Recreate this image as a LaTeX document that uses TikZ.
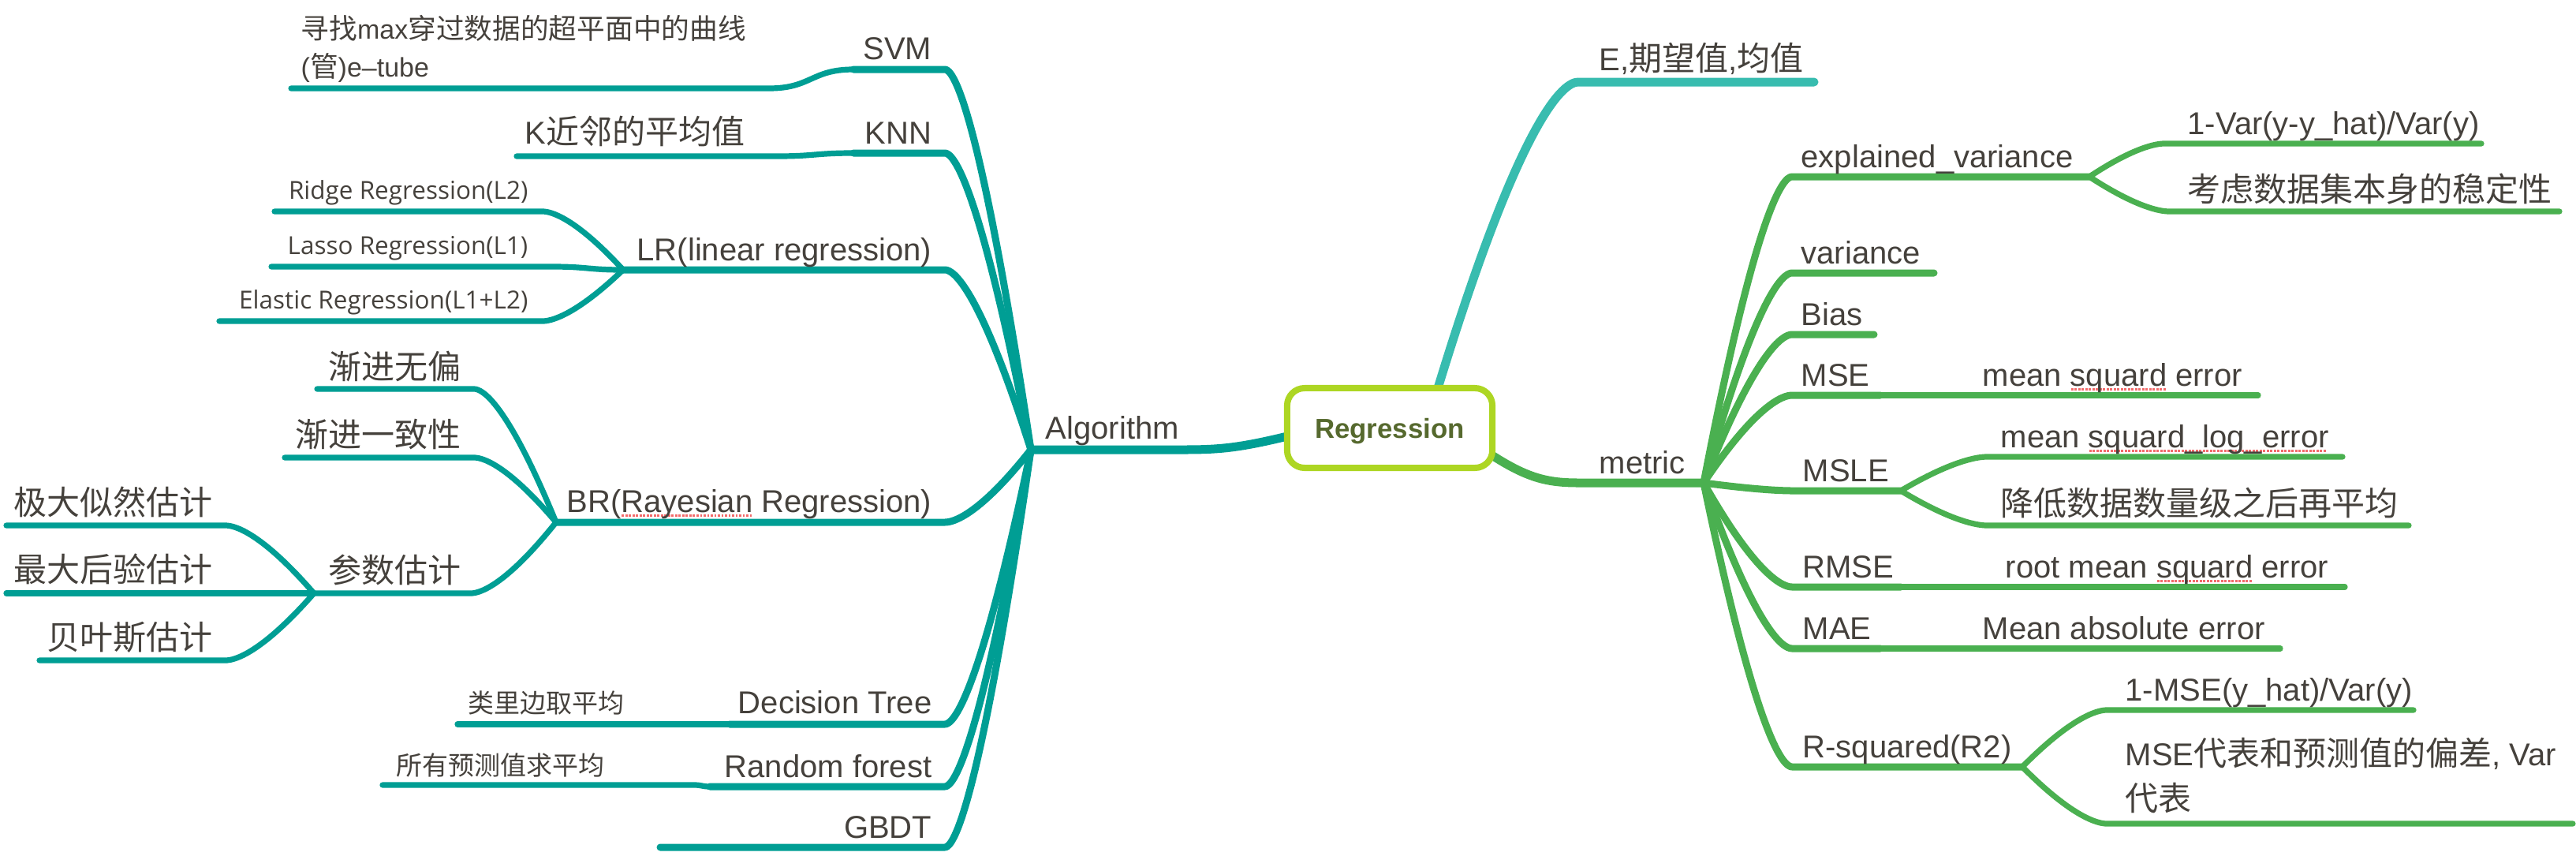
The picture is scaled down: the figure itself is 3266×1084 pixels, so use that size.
\documentclass[tikz,border=0pt]{standalone}
\usepackage{fontspec}
\setmainfont{Liberation Sans}
\newfontfamily\cjk[Scale=1.05]{Noto Sans CJK SC}
\newfontfamily\smallsans{Open Sans}
\usetikzlibrary{calc}
\definecolor{teal1}{HTML}{009E94}
\definecolor{eteal}{HTML}{38BCAF}
\definecolor{mgreen}{HTML}{4AB050}
\definecolor{boxgreen}{HTML}{ADD623}
\definecolor{olive}{HTML}{56692E}
\definecolor{txtgray}{HTML}{45413C}
\definecolor{spellred}{HTML}{F26B6B}
\newsavebox\spbox
\newcommand\spellmark[1]{\sbox\spbox{#1}\rlap{\color{spellred}\leaders\hbox to 0.045cm{\hss\rule[-0.15em]{0.028cm}{0.028cm}\hss}\hskip\wd\spbox}#1}
\newcommand\fmain{\fontsize{11.38pt}{14pt}\selectfont}
\newcommand\fsvmc{\fontsize{9.67pt}{13.4pt}\selectfont}
\newcommand\fsmall{\smallsans\fontsize{8.95pt}{10pt}\selectfont}
\newcommand\fsmallcjk{\fontsize{8.94pt}{10pt}\selectfont}
\newcommand\fr{\fontsize{11.38pt}{16.2pt}\selectfont}
\newcommand\freg{\bfseries\fontsize{9.9pt}{12pt}\selectfont}
\tikzset{
  branch/.style={to path={let \p1=(\tikztostart),\p2=(\tikztotarget) in
     .. controls ({\x1+0.6*((\x2)-(\x1))},{\y1+0.9*((\y2)-(\y1))}) and ({\x1+0.9*((\x2)-(\x1))},\y2) .. (\tikztotarget)}},
  scurve/.style={to path={let \p1=(\tikztostart),\p2=(\tikztotarget) in
     .. controls ({0.5*(\x1)+0.5*(\x2)},\y1) and ({0.5*(\x1)+0.5*(\x2)},\y2) .. (\tikztotarget)}},
}
\begin{document}
\begin{tikzpicture}[x=0.01cm,y=-0.01cm, line cap=round, line join=round,
  txt/.style={inner sep=0pt, text=txtgray, font=\fmain},
  lt/.style={txt, anchor=base east},
  rt/.style={txt, anchor=base west},
  w1/.style={line width=0.11cm},
  w2/.style={line width=0.09cm},
  w3/.style={line width=0.072cm},
  regbox/.style={draw=boxgreen, line width=0.08cm, fill=white, rounded corners=0.22cm,
     minimum width=2.60cm, minimum height=1.01cm, inner sep=0pt, text=olive, font=\freg, text depth=0pt},
]
\useasboundingbox (0,0) rectangle (3266,1084);

% ---------- coordinates ----------
\coordinate (regW) at (1632,553);
\coordinate (regN) at (1823,492);
\coordinate (regSE) at (1890,576);
\coordinate (algHub) at (1307,570);
\coordinate (algBend) at (1500,570);
% left level 2
\coordinate (svmL) at (1082,88);   \coordinate (svmR) at (1198,88);
\coordinate (knnL) at (1082,194);  \coordinate (knnR) at (1198,194);
\coordinate (lrL) at (790,342);    \coordinate (lrR) at (1198,342);
\coordinate (brL) at (705,662);    \coordinate (brR) at (1198,662);
\coordinate (dtL) at (925,918);    \coordinate (dtR) at (1198,918);
\coordinate (rfL) at (900,997);    \coordinate (rfR) at (1198,997);
\coordinate (gbL) at (837,1074);   \coordinate (gbR) at (1198,1074);
% left level 3
\coordinate (svmcL) at (369,112);  \coordinate (svmcR) at (975,112);
\coordinate (knncL) at (655,198);  \coordinate (knncR) at (985,198);
\coordinate (ridL) at (348,268);   \coordinate (ridR) at (688,268);
\coordinate (lasL) at (344,338);   \coordinate (lasR) at (700,338);
\coordinate (elaL) at (278,407);   \coordinate (elaR) at (688,407);
\coordinate (jwL) at (402,493);    \coordinate (jwR) at (601,493);
\coordinate (jyL) at (361,580);    \coordinate (jyR) at (601,580);
\coordinate (csL) at (398,752);    \coordinate (csR) at (597,752);
\coordinate (jdL) at (8,666);      \coordinate (jdR) at (286,666);
\coordinate (zdL) at (8,752);      \coordinate (zdR) at (286,752);
\coordinate (byL) at (50,837);     \coordinate (byR) at (286,837);
\coordinate (dtcL) at (580,918);
\coordinate (rfcL) at (485,995);   \coordinate (rfcR) at (880,995);
% right
\coordinate (eL) at (2001,104);    \coordinate (eR) at (2300,104);
\coordinate (metL) at (2001,612);  \coordinate (metHub) at (2160,612);
\coordinate (evL) at (2272,224);   \coordinate (evR) at (2649,224);
\coordinate (vaL) at (2272,346);   \coordinate (vaR) at (2452,346);
\coordinate (biL) at (2272,424);   \coordinate (biR) at (2376,424);
\coordinate (mseL) at (2272,501);  \coordinate (mseR) at (2384,501);
\coordinate (msleL) at (2272,622); \coordinate (msleR) at (2410,622);
\coordinate (rmL) at (2272,744);   \coordinate (rmR) at (2410,744);
\coordinate (maL) at (2272,822);   \coordinate (maR) at (2384,822);
\coordinate (r2L) at (2272,972);   \coordinate (r2R) at (2564,972);
\coordinate (ev1L) at (2744,182);  \coordinate (ev1R) at (3146,182);
\coordinate (ev2L) at (2750,268);  \coordinate (ev2R) at (3245,268);
\coordinate (msecR) at (2863,501);
\coordinate (ml1L) at (2519,579);  \coordinate (ml1R) at (2970,579);
\coordinate (ml2L) at (2519,666);  \coordinate (ml2R) at (3054,666);
\coordinate (rmcR) at (2973,744);
\coordinate (macR) at (2891,822);
\coordinate (r2aL) at (2671,900);  \coordinate (r2aR) at (3060,900);
\coordinate (r2bL) at (2671,1044); \coordinate (r2bR) at (3262,1044);

% ---------- Algorithm branch ----------
\begin{scope}[draw=teal1]
\draw[w1] (regW) .. controls (1570,568) and (1545,570) .. (algBend) -- (algHub);
\foreach \q in {svm,knn,lr,br,dt,rf,gb}{\draw[w2] (algHub) to[branch] (\q R) -- (\q L);}
\draw[w3] (svmL) to[scurve] (svmcR) -- (svmcL);
\draw[w3] (knnL) to[scurve] (knncR) -- (knncL);
\draw[w3] (lrL) to[branch] (ridR) -- (ridL);
\draw[w3] (lrL) to[scurve] (lasR) -- (lasL);
\draw[w3] (lrL) to[branch] (elaR) -- (elaL);
\draw[w3] (brL) to[branch] (jwR) -- (jwL);
\draw[w3] (brL) to[branch] (jyR) -- (jyL);
\draw[w3] (brL) to[branch] (csR) -- (csL);
\draw[w3] (csL) to[branch] (jdR) -- (jdL);
\draw[w3] (csL) -- (zdR) -- (zdL);
\draw[w3] (csL) to[branch] (byR) -- (byL);
\draw[w3] (dtL) -- (dtcL);
\draw[w3] (rfL) to[scurve] (rfcR) -- (rfcL);
\end{scope}

% ---------- E branch ----------
\draw[w1, draw=eteal] (regN) to[branch] (eL) -- (eR);

% ---------- metric branch ----------
\begin{scope}[draw=mgreen]
\draw[w1] (regSE) .. controls (1935,605) and (1960,612) .. (metL) -- (metHub);
\foreach \q in {ev,va,bi,mse,msle,rm,ma,r2}{\draw[w2] (metHub) to[branch] (\q L) -- (\q R);}
\draw[w3] (evR) to[branch] (ev1L) -- (ev1R);
\draw[w3] (evR) to[branch] (ev2L) -- (ev2R);
\draw[w3] (mseR) -- (msecR);
\draw[w3] (msleR) to[branch] (ml1L) -- (ml1R);
\draw[w3] (msleR) to[branch] (ml2L) -- (ml2R);
\draw[w3] (rmR) -- (rmcR);
\draw[w3] (maR) -- (macR);
\draw[w3] (r2R) to[branch] (r2aL) -- (r2aR);
\draw[w3] (r2R) to[branch] (r2bL) -- (r2bR);
\end{scope}

% ---------- root ----------
\node[regbox] (reg) at (1762,542.5) {Regression};

% ---------- left texts ----------
\node[rt] (alg) at (1325,556) {Algorithm};
\node[lt] (svm) at (1182,75) {SVM};
\node[txt, anchor=base west, align=left, font=\fsvmc] (svmc) at (381,97)
  {{\cjk 寻找}max{\cjk 穿过数据的超平面中的曲线}\\({\cjk 管})e–tube};
\node[lt] (knn) at (1182,182) {KNN};
\node[lt] (knnc) at (945,182) {K{\cjk 近邻的平均值}};
\node[lt] (lr) at (1182,330) {LR(linear regression)};
\node[lt, font=\fsmall] (rid) at (670,252) {Ridge Regression(L2)};
\node[lt, font=\fsmall] (las) at (670,322) {Lasso Regression(L1)};
\node[lt, font=\fsmall] (ela) at (670,391) {Elastic Regression(L1+L2)};
\node[lt] (br) at (1182,649) {BR(\spellmark{Rayesian} Regression)};
\node[lt] (jw) at (585,480) {\cjk 渐进无偏};
\node[lt] (jy) at (585,566) {\cjk 渐进一致性};
\node[lt] (cs) at (585,738) {\cjk 参数估计};
\node[lt] (jd) at (270,652) {\cjk 极大似然估计};
\node[lt] (zd) at (270,737) {\cjk 最大后验估计};
\node[lt] (by) at (270,823) {\cjk 贝叶斯估计};
\node[lt] (dt) at (1182,904) {Decision Tree};
\node[lt, font=\fsmallcjk] (dtc) at (792,903) {\cjk 类里边取平均};
\node[lt] (rf) at (1182,985) {Random forest};
\node[lt, font=\fsmallcjk] (rfc) at (767,982) {\cjk 所有预测值求平均};
\node[lt] (gb) at (1182,1062) {GBDT};

% ---------- right texts ----------
\node[rt] (e) at (2027,89) {E,{\cjk 期望值},{\cjk 均值}};
\node[rt] (met) at (2027,600) {metric};
\node[rt] (ev) at (2283,212) {explained\_variance};
\node[rt] (ev1) at (2773,170) {1-Var(y-y\_hat)/Var(y)};
\node[rt] (ev2) at (2773,255) {\cjk 考虑数据集本身的稳定性};
\node[rt] (va) at (2283,334) {variance};
\node[rt] (bi) at (2283,412) {Bias};
\node[rt] (mse) at (2283,489) {MSE};
\node[rt] (msec) at (2513,489) {mean \spellmark{squard} error};
\node[rt] (msle) at (2285,610) {MSLE};
\node[rt] (ml1) at (2536,567) {mean \spellmark{squard\_log\_error}};
\node[rt] (ml2) at (2536,653) {\cjk 降低数据数量级之后再平均};
\node[rt] (rm) at (2285,732) {RMSE};
\node[rt] (rmc) at (2542,732) {root mean \spellmark{squard} error};
\node[rt] (ma) at (2285,810) {MAE};
\node[rt] (mac) at (2513,810) {Mean absolute error};
\node[rt] (r2) at (2285,960) {R-squared(R2)};
\node[rt] (r2a) at (2694,888) {1-MSE(y\_hat)/Var(y)};
\node[rt, align=left, font=\fr] (r2b) at (2694,1027) {MSE{\cjk 代表和预测值的偏差}, Var\\{\cjk 代表}};
\end{tikzpicture}
\end{document}
